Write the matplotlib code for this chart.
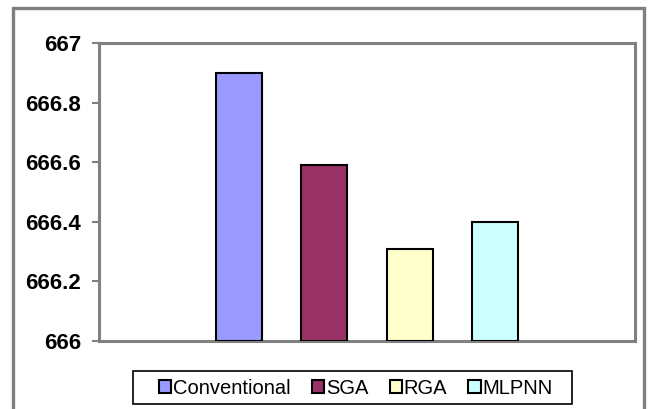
import matplotlib
matplotlib.use("Agg")
import matplotlib.pyplot as plt
from matplotlib.patches import Rectangle

series = ["Conventional", "SGA", "RGA", "MLPNN"]
values = [666.90, 666.59, 666.31, 666.40]
colors = ["#9999FF", "#993366", "#FFFFCC", "#CCFFFF"]
yticks = [666, 666.2, 666.4, 666.6, 666.8, 667]
ytick_labels = ["666", "666.2", "666.4", "666.6", "666.8", "667"]

W, H = 654, 409
fig = plt.figure(figsize=(W / 100, H / 100), dpi=100)
fig.patch.set_facecolor("white")

# outer chart-area frame
fig.patches.append(Rectangle((13 / W, -0.05), (644 - 13) / W, 1 - 8 / H + 0.05,
                             transform=fig.transFigure, fill=False,
                             edgecolor="#808080", linewidth=2.4))

ax = fig.add_axes([99 / W, 1 - 341 / H, (635 - 99) / W, (341 - 43) / H])
x = list(range(len(series)))
bars = ax.bar(x, [v - 666 for v in values], bottom=666, width=0.54,
              color=colors, edgecolor="black", linewidth=1.5, zorder=3)

ax.set_xlim(-1.635, 4.635)
ax.set_ylim(666, 667)
ax.set_yticks(yticks)
ax.set_yticklabels(ytick_labels, fontfamily="Liberation Sans",
                   fontweight="bold", fontsize=16)
ax.set_xticks([])
for side in ["left", "bottom", "top", "right"]:
    ax.spines[side].set_color("#808080")
    ax.spines[side].set_linewidth(2.2)
ax.tick_params(axis="y", direction="out", length=5, width=1.5,
               color="#808080", pad=8)

# legend frame
fig.patches.append(Rectangle((133 / W, 1 - 404 / H), (572 - 133) / W, 33 / H,
                             transform=fig.transFigure, fill=False,
                             edgecolor="black", linewidth=1.2))
leg = fig.legend(handles=list(bars), labels=series, loc="center",
                 bbox_to_anchor=(356 / W, 1 - 388 / H), ncol=4,
                 frameon=False, handlelength=0.6,
                 handleheight=0.6, handletextpad=0.1, columnspacing=1.05,
                 borderpad=0.3, prop={"family": "Liberation Sans", "size": 14.5})
for h in leg.legend_handles:
    h.set_linewidth(1.5)

fig.savefig("out.png", dpi=100)
